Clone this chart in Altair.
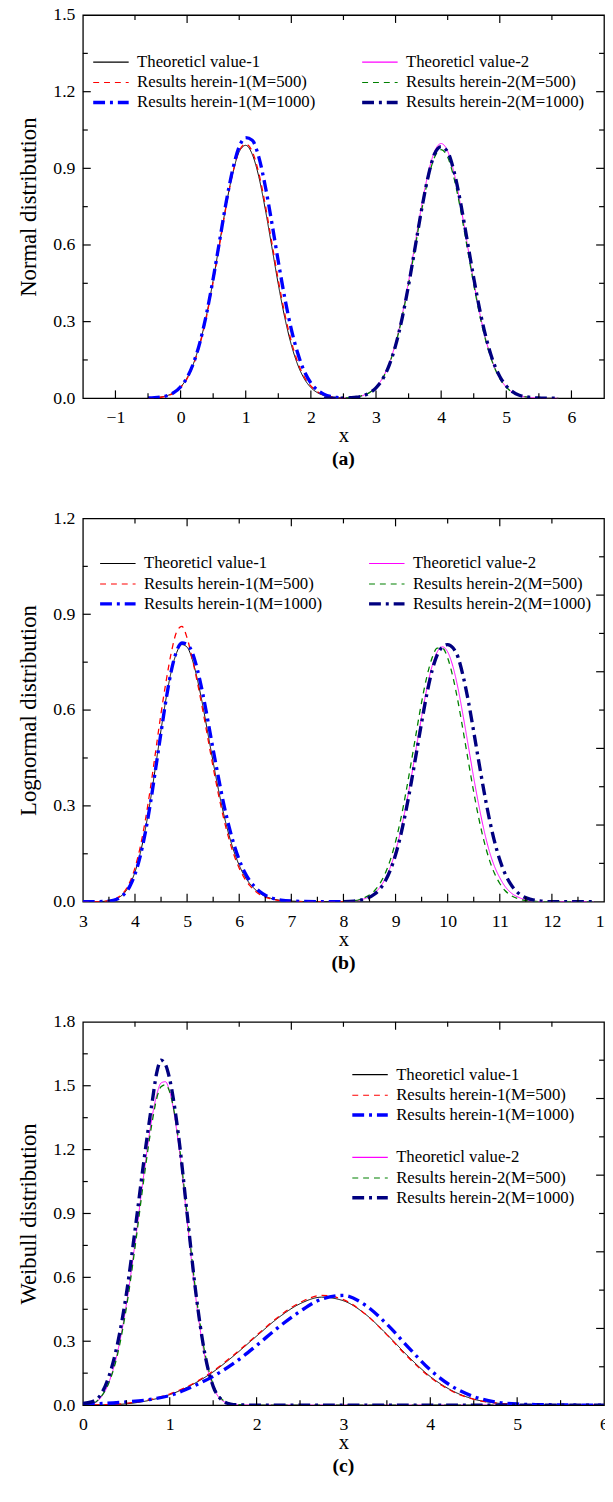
import altair as alt
import pandas as pd

FONT = "Liberation Serif"

# ---------------- data ----------------
# (a) Normal distribution
a_x1 = [-0.5, -0.4, -0.3, -0.2, -0.1, 0.0, 0.1, 0.2, 0.3, 0.4, 0.5, 0.6, 0.7, 0.8, 0.9,
        1.0, 1.1, 1.2, 1.3, 1.4, 1.5, 1.6, 1.7, 1.8, 1.9, 2.0, 2.1, 2.2, 2.3, 2.4, 2.5]
a_theo1 = [0.001, 0.002, 0.005, 0.011, 0.023, 0.044, 0.080, 0.137, 0.219, 0.328, 0.462, 0.610, 0.757, 0.880, 0.965,
           0.990, 0.955, 0.868, 0.740, 0.594, 0.446, 0.315, 0.209, 0.130, 0.076, 0.042, 0.022, 0.011, 0.005, 0.002, 0.001]
a_r1_500 = [0.000, 0.001, 0.004, 0.010, 0.021, 0.042, 0.077, 0.133, 0.214, 0.322, 0.455, 0.603, 0.752, 0.880, 0.968,
            0.995, 0.966, 0.882, 0.757, 0.610, 0.462, 0.330, 0.222, 0.140, 0.083, 0.048, 0.026, 0.013, 0.006, 0.002, 0.001]
a_r1_1000 = [0.001, 0.002, 0.005, 0.011, 0.023, 0.045, 0.081, 0.139, 0.222, 0.333, 0.468, 0.618, 0.768, 0.895, 0.985,
             1.020, 1.010, 0.945, 0.830, 0.688, 0.535, 0.392, 0.270, 0.175, 0.105, 0.060, 0.032, 0.016, 0.007, 0.003, 0.001]
a_x2 = [2.2, 2.3, 2.4, 2.5, 2.6, 2.7, 2.8, 2.9, 3.0, 3.1, 3.2, 3.3, 3.4, 3.5, 3.6, 3.7, 3.8, 3.9, 4.0,
        4.1, 4.2, 4.3, 4.4, 4.5, 4.6, 4.7, 4.8, 4.9, 5.0, 5.1, 5.2, 5.3, 5.4, 5.5, 5.6, 5.7, 5.8]
a_theo2 = [0.000, 0.000, 0.000, 0.001, 0.002, 0.005, 0.011, 0.023, 0.044, 0.079, 0.135, 0.216, 0.324, 0.457, 0.605, 0.753, 0.880, 0.967, 0.997,
           0.967, 0.880, 0.753, 0.605, 0.457, 0.324, 0.216, 0.135, 0.079, 0.044, 0.023, 0.011, 0.005, 0.002, 0.001, 0.000, 0.000, 0.000]
a_r2_500 = [0.000, 0.000, 0.000, 0.001, 0.002, 0.005, 0.011, 0.022, 0.043, 0.077, 0.132, 0.211, 0.316, 0.446, 0.590, 0.735, 0.859, 0.944, 0.973,
            0.944, 0.859, 0.735, 0.590, 0.446, 0.316, 0.211, 0.132, 0.077, 0.043, 0.022, 0.011, 0.005, 0.002, 0.001, 0.000, 0.000, 0.000]
a_r2_1000 = [0.000, 0.000, 0.000, 0.001, 0.002, 0.004, 0.010, 0.021, 0.041, 0.074, 0.128, 0.206, 0.312, 0.443, 0.590, 0.739, 0.868, 0.957, 0.985,
             0.964, 0.885, 0.763, 0.618, 0.471, 0.337, 0.227, 0.143, 0.085, 0.048, 0.025, 0.012, 0.006, 0.002, 0.001, 0.000, 0.000, 0.000]

# (b) Lognormal distribution
b_x1 = [3.0, 3.2, 3.4, 3.5, 3.6, 3.7, 3.8, 3.9, 4.0, 4.1, 4.2, 4.3, 4.4, 4.5, 4.6, 4.7, 4.8, 4.9, 5.0,
        5.1, 5.2, 5.3, 5.4, 5.5, 5.6, 5.7, 5.8, 5.9, 6.0, 6.1, 6.2, 6.3, 6.4, 6.5, 6.6, 6.8, 7.0, 7.5, 8.0]
b_theo1 = [0.000, 0.000, 0.001, 0.002, 0.006, 0.014, 0.028, 0.053, 0.093, 0.151, 0.228, 0.322, 0.429, 0.538, 0.640, 0.724, 0.780, 0.805, 0.797,
           0.758, 0.694, 0.615, 0.526, 0.437, 0.352, 0.276, 0.211, 0.157, 0.114, 0.081, 0.057, 0.039, 0.026, 0.017, 0.011, 0.004, 0.002, 0.000, 0.000]
b_r1_500 = [0.000, 0.000, 0.001, 0.003, 0.007, 0.016, 0.032, 0.061, 0.106, 0.171, 0.256, 0.360, 0.475, 0.590, 0.693, 0.783, 0.845, 0.862, 0.826,
            0.760, 0.684, 0.600, 0.510, 0.421, 0.337, 0.262, 0.198, 0.146, 0.105, 0.074, 0.051, 0.034, 0.022, 0.014, 0.009, 0.003, 0.001, 0.000, 0.000]
b_r1_1000 = [0.000, 0.000, 0.001, 0.002, 0.005, 0.012, 0.025, 0.048, 0.086, 0.142, 0.218, 0.312, 0.420, 0.530, 0.636, 0.725, 0.785, 0.810, 0.806,
             0.780, 0.725, 0.652, 0.566, 0.476, 0.390, 0.308, 0.238, 0.179, 0.131, 0.094, 0.066, 0.046, 0.031, 0.020, 0.013, 0.005, 0.002, 0.000, 0.000]
b_x2 = [8.0, 8.2, 8.4, 8.6, 8.7, 8.8, 8.9, 9.0, 9.1, 9.2, 9.3, 9.4, 9.5, 9.6, 9.7, 9.8, 9.9, 10.0,
        10.1, 10.2, 10.3, 10.4, 10.5, 10.6, 10.7, 10.8, 10.9, 11.0, 11.1, 11.2, 11.4, 11.6, 11.8, 12.0, 12.4, 12.8]
b_theo2 = [0.000, 0.002, 0.009, 0.027, 0.045, 0.071, 0.108, 0.158, 0.222, 0.300, 0.388, 0.484, 0.579, 0.667, 0.737, 0.782, 0.798, 0.782,
           0.737, 0.667, 0.579, 0.484, 0.388, 0.300, 0.222, 0.158, 0.110, 0.075, 0.048, 0.030, 0.011, 0.003, 0.000, 0.000, 0.000, 0.000]
b_r2_500 = [0.001, 0.003, 0.012, 0.035, 0.057, 0.088, 0.131, 0.188, 0.259, 0.343, 0.436, 0.532, 0.625, 0.704, 0.763, 0.794, 0.794, 0.763,
            0.704, 0.625, 0.532, 0.436, 0.343, 0.259, 0.188, 0.131, 0.088, 0.057, 0.035, 0.021, 0.007, 0.002, 0.000, 0.000, 0.000, 0.000]
b_r2_1000 = [0.000, 0.002, 0.008, 0.024, 0.040, 0.064, 0.099, 0.147, 0.209, 0.285, 0.372, 0.466, 0.561, 0.650, 0.723, 0.773, 0.798, 0.805,
             0.795, 0.765, 0.704, 0.625, 0.532, 0.436, 0.343, 0.259, 0.188, 0.131, 0.088, 0.057, 0.021, 0.007, 0.002, 0.000, 0.000, 0.000]

# (c) Weibull distribution
c_x1 = [0.0, 0.25, 0.5, 0.75, 1.0, 1.25, 1.5, 1.75, 2.0, 2.25, 2.5, 2.75, 3.0,
        3.25, 3.5, 3.75, 4.0, 4.25, 4.5, 4.75, 5.0, 5.25, 5.5, 5.75, 6.0]
c_theo1 = [0.000, 0.001, 0.006, 0.021, 0.049, 0.094, 0.156, 0.236, 0.324, 0.410, 0.476, 0.507, 0.490,
           0.428, 0.332, 0.227, 0.134, 0.068, 0.028, 0.010, 0.003, 0.001, 0.000, 0.000, 0.000]
c_r1_500 = [0.000, 0.002, 0.008, 0.024, 0.052, 0.097, 0.160, 0.240, 0.328, 0.414, 0.482, 0.515, 0.495,
            0.428, 0.330, 0.222, 0.130, 0.065, 0.027, 0.010, 0.003, 0.001, 0.000, 0.000, 0.000]
c_r1_1000 = [0.005, 0.008, 0.015, 0.025, 0.045, 0.085, 0.135, 0.200, 0.280, 0.365, 0.440, 0.498, 0.515,
             0.470, 0.380, 0.270, 0.165, 0.088, 0.040, 0.015, 0.005, 0.002, 0.001, 0.000, 0.000]
c_x2 = [0.0, 0.1, 0.2, 0.3, 0.4, 0.5, 0.6, 0.7, 0.8, 0.85, 0.9, 0.95, 1.0,
        1.1, 1.2, 1.3, 1.4, 1.5, 1.6, 1.7, 1.8, 2.0, 3.0, 4.0, 5.0, 6.0]
c_theo2 = [0.000, 0.004, 0.032, 0.107, 0.250, 0.470, 0.759, 1.079, 1.360, 1.457, 1.513, 1.519, 1.472,
           1.232, 0.869, 0.505, 0.236, 0.085, 0.023, 0.005, 0.001, 0.000, 0.000, 0.000, 0.000, 0.000]
c_r2_500 = [0.002, 0.006, 0.035, 0.105, 0.240, 0.455, 0.740, 1.055, 1.335, 1.440, 1.495, 1.505, 1.470,
            1.250, 0.895, 0.530, 0.255, 0.097, 0.028, 0.007, 0.002, 0.000, 0.000, 0.000, 0.000, 0.000]
c_r2_1000 = [0.008, 0.015, 0.045, 0.135, 0.290, 0.520, 0.820, 1.140, 1.430, 1.560, 1.620, 1.600, 1.530,
             1.270, 0.900, 0.530, 0.250, 0.088, 0.024, 0.005, 0.001, 0.000, 0.000, 0.000, 0.000, 0.000]

# series names
T1 = "Theoreticl value-1"
R1A = "Results herein-1(M=500)"
R1B = "Results herein-1(M=1000)"
T2 = "Theoreticl value-2"
R2A = "Results herein-2(M=500)"
R2B = "Results herein-2(M=1000)"
B1, B2, B3 = " ", "  ", "   "   # empty legend rows

# axis tick labels
a_xlabels = [-1, 0, 1, 2, 3, 4, 5, 6]
b_xlabels = [3, 4, 5, 6, 7, 8, 9, 10, 11, 12, 13]
c_xlabels = [0, 1, 2, 3, 4, 5, 6]
a_ylabels = [0.0, 0.3, 0.6, 0.9, 1.2, 1.5]
b_ylabels = [0.0, 0.3, 0.6, 0.9, 1.2]
c_ylabels = [0.0, 0.3, 0.6, 0.9, 1.2, 1.5, 1.8]

# ---------------- styles ----------------
CLEAR = "rgba(0,0,0,0)"
STYLE = {
    T1: ("#000000", [1, 0], 1.0),
    R1A: ("#ff0000", [6, 5], 1.3),
    R1B: ("#0000ff", [12, 5, 3, 5], 3.4),
    T2: ("#ff00ff", [1, 0], 1.0),
    R2A: ("#008000", [6, 5], 1.3),
    R2B: ("#000080", [12, 5, 3, 5], 3.4),
    B1: (CLEAR, [1, 0], 1.0),
    B2: (CLEAR, [1, 0], 1.0),
    B3: (CLEAR, [1, 0], 1.0),
}

W, H = 529, 389
ROW = 20.5
LEG_PATH = "M-3,0H3"   # a wide horizontal stroke inside a small nominal symbol box


def long_df(groups):
    rows = []
    for xs, series in groups:
        for name, ys in series:
            for xv, yv in zip(xs, ys):
                rows.append({"x": xv, "y": yv, "series": name, "sw": STYLE[name][2]})
    return pd.DataFrame(rows)


def frange(lo, hi, n):
    return [lo + (hi - lo) * k / n for k in range(1, n)]


def panel(df, xdom, ydom, xlab, ylab, ytitle, tag, legs):
    xaxis = alt.Axis(values=xlab, format="d", ticks=False, domain=False, grid=False,
                     labelFont=FONT, labelFontSize=18, labelColor="black", labelPadding=11,
                     labelFlush=False, labelOverlap=False,
                     title="x", titleFont=FONT, titleFontSize=21, titleFontWeight="normal",
                     titleColor="black", titlePadding=-2)
    yaxis = alt.Axis(values=ylab, format=".1f", ticks=False, domain=False, grid=False,
                     labelFont=FONT, labelFontSize=18, labelColor="black", labelPadding=8,
                     labelFlush=False, labelOverlap=False,
                     title=ytitle, titleFont=FONT, titleFontSize=23, titleFontWeight="normal",
                     titleColor="black", titlePadding=13)
    xs = alt.Scale(domain=xdom, nice=False, zero=False)
    ys = alt.Scale(domain=ydom, nice=False, zero=False)
    X = alt.X("x:Q", scale=xs, axis=xaxis)
    Y = alt.Y("y:Q", scale=ys, axis=yaxis)

    line_layers = []
    for order, lx, ly, cols, colpad, thick in legs:
        leg = alt.Legend(title=None, orient="none", legendX=lx, legendY=ly, columns=cols,
                         symbolType=LEG_PATH, symbolSize=144, labelFont=FONT, labelFontSize=17,
                         labelColor="black", labelLimit=400, rowPadding=ROW - 17.5,
                         columnPadding=colpad, labelOffset=18,
                         symbolStrokeWidth=3.4 if thick else 1.2)
        colors = [STYLE[s][0] for s in order]
        dashes = [STYLE[s][1] for s in order]
        sub = df[df["series"].isin(order)]
        line_layers.append(alt.Chart(sub).mark_line(interpolate="monotone", clip=True).encode(
            x=X, y=Y,
            color=alt.Color("series:N", scale=alt.Scale(domain=order, range=colors), legend=leg),
            strokeDash=alt.StrokeDash("series:N", scale=alt.Scale(domain=order, range=dashes), legend=leg),
            strokeWidth=alt.StrokeWidth("sw:Q", scale=None, legend=None),
        ))

    xmajor = [v for v in xlab if xdom[0] < v < xdom[1]]
    xminor = [v + 0.5 for v in ([xdom[0] - 0.5] + xlab) if xdom[0] < v + 0.5 < xdom[1]]
    ymajor = [v for v in ylab if ydom[0] < v < ydom[1]]
    ystep = ylab[1] - ylab[0]
    yminor = [v + ystep / 2 for v in ylab if v + ystep / 2 < ydom[1]]
    top = frange(xdom[0], xdom[1], 10)
    right = frange(ydom[0], ydom[1], 10)
    top_major = [v for i, v in enumerate(top) if (i + 1) % 2 == 0]
    top_minor = [v for i, v in enumerate(top) if (i + 1) % 2 == 1]
    right_major = [v for i, v in enumerate(right) if (i + 1) % 2 == 0]
    right_minor = [v for i, v in enumerate(right) if (i + 1) % 2 == 1]

    def xt(vals, a, b):
        return alt.Chart(pd.DataFrame({"x": vals})).mark_rule(color="black", strokeWidth=1.2).encode(
            x=X, y=alt.value(a), y2=alt.value(b))

    def yt(vals, a, b):
        return alt.Chart(pd.DataFrame({"y": vals})).mark_rule(color="black", strokeWidth=1.2).encode(
            y=Y, x=alt.value(a), x2=alt.value(b))

    ticks = [
        xt(xmajor, H, H - 8), xt(xminor, H, H - 5),
        xt(top_major, 0, 8), xt(top_minor, 0, 5),
        yt(ymajor, 0, 8), yt(yminor, 0, 5),
        yt(right_major, W, W - 8), yt(right_minor, W, W - 5),
    ]
    return alt.layer(*line_layers, *ticks).resolve_scale(
        color="independent", strokeDash="independent"
    ).properties(
        width=W, height=H,
        title=alt.TitleParams(tag, orient="bottom", font=FONT, fontSize=20, fontWeight="bold",
                              color="black", offset=4, anchor="middle"))


df_a = long_df([(a_x1, [(T1, a_theo1), (R1A, a_r1_500), (R1B, a_r1_1000)]),
                (a_x2, [(T2, a_theo2), (R2A, a_r2_500), (R2B, a_r2_1000)])])
df_b = long_df([(b_x1, [(T1, b_theo1), (R1A, b_r1_500), (R1B, b_r1_1000)]),
                (b_x2, [(T2, b_theo2), (R2A, b_r2_500), (R2B, b_r2_1000)])])
df_c = long_df([(c_x1, [(T1, c_theo1), (R1A, c_r1_500), (R1B, c_r1_1000)]),
                (c_x2, [(T2, c_theo2), (R2A, c_r2_500), (R2B, c_r2_1000)])])

# legends: (entries, legendX, legendY, columns, columnPadding, thick)
legs_a = [([T1, R1A, T2, R2A], 20, 39, 2, 53, False),
          ([R1B, R2B], 20, 39 + 2 * ROW, 2, 40, True)]
legs_b = [([T1, R1A, T2, R2A], 27, 37, 2, 53, False),
          ([R1B, R2B], 27, 37 + 2 * ROW, 2, 40, True)]
legs_c = [([T1, R1A, B1, B2, T2, R2A], 283, 45, 1, 10, False),
          ([R1B, B1, B2, B3, R2B], 283, 45 + 2 * ROW, 1, 10, True)]

pa = panel(df_a, [-1.5, 6.5], [0, 1.5], a_xlabels, a_ylabels, "Normal distribution", "(a)", legs_a)
pb = panel(df_b, [3, 13], [0, 1.2], b_xlabels, b_ylabels, "Lognormal distribution", "(b)", legs_b)
pc = panel(df_c, [0, 6], [0, 1.8], c_xlabels, c_ylabels, "Weibull distribution", "(c)", legs_c)

chart = alt.vconcat(pa, pb, pc, spacing=39).resolve_scale(
    x="independent", y="independent", color="independent", strokeDash="independent"
).resolve_legend(
    color="independent", strokeDash="independent"
).configure_view(
    stroke="black", strokeWidth=1.3
).properties(
    padding={"left": 8, "top": -14, "right": -9, "bottom": 0}
)

chart.save("out.html", embed_options={"renderer": "svg", "actions": False})
